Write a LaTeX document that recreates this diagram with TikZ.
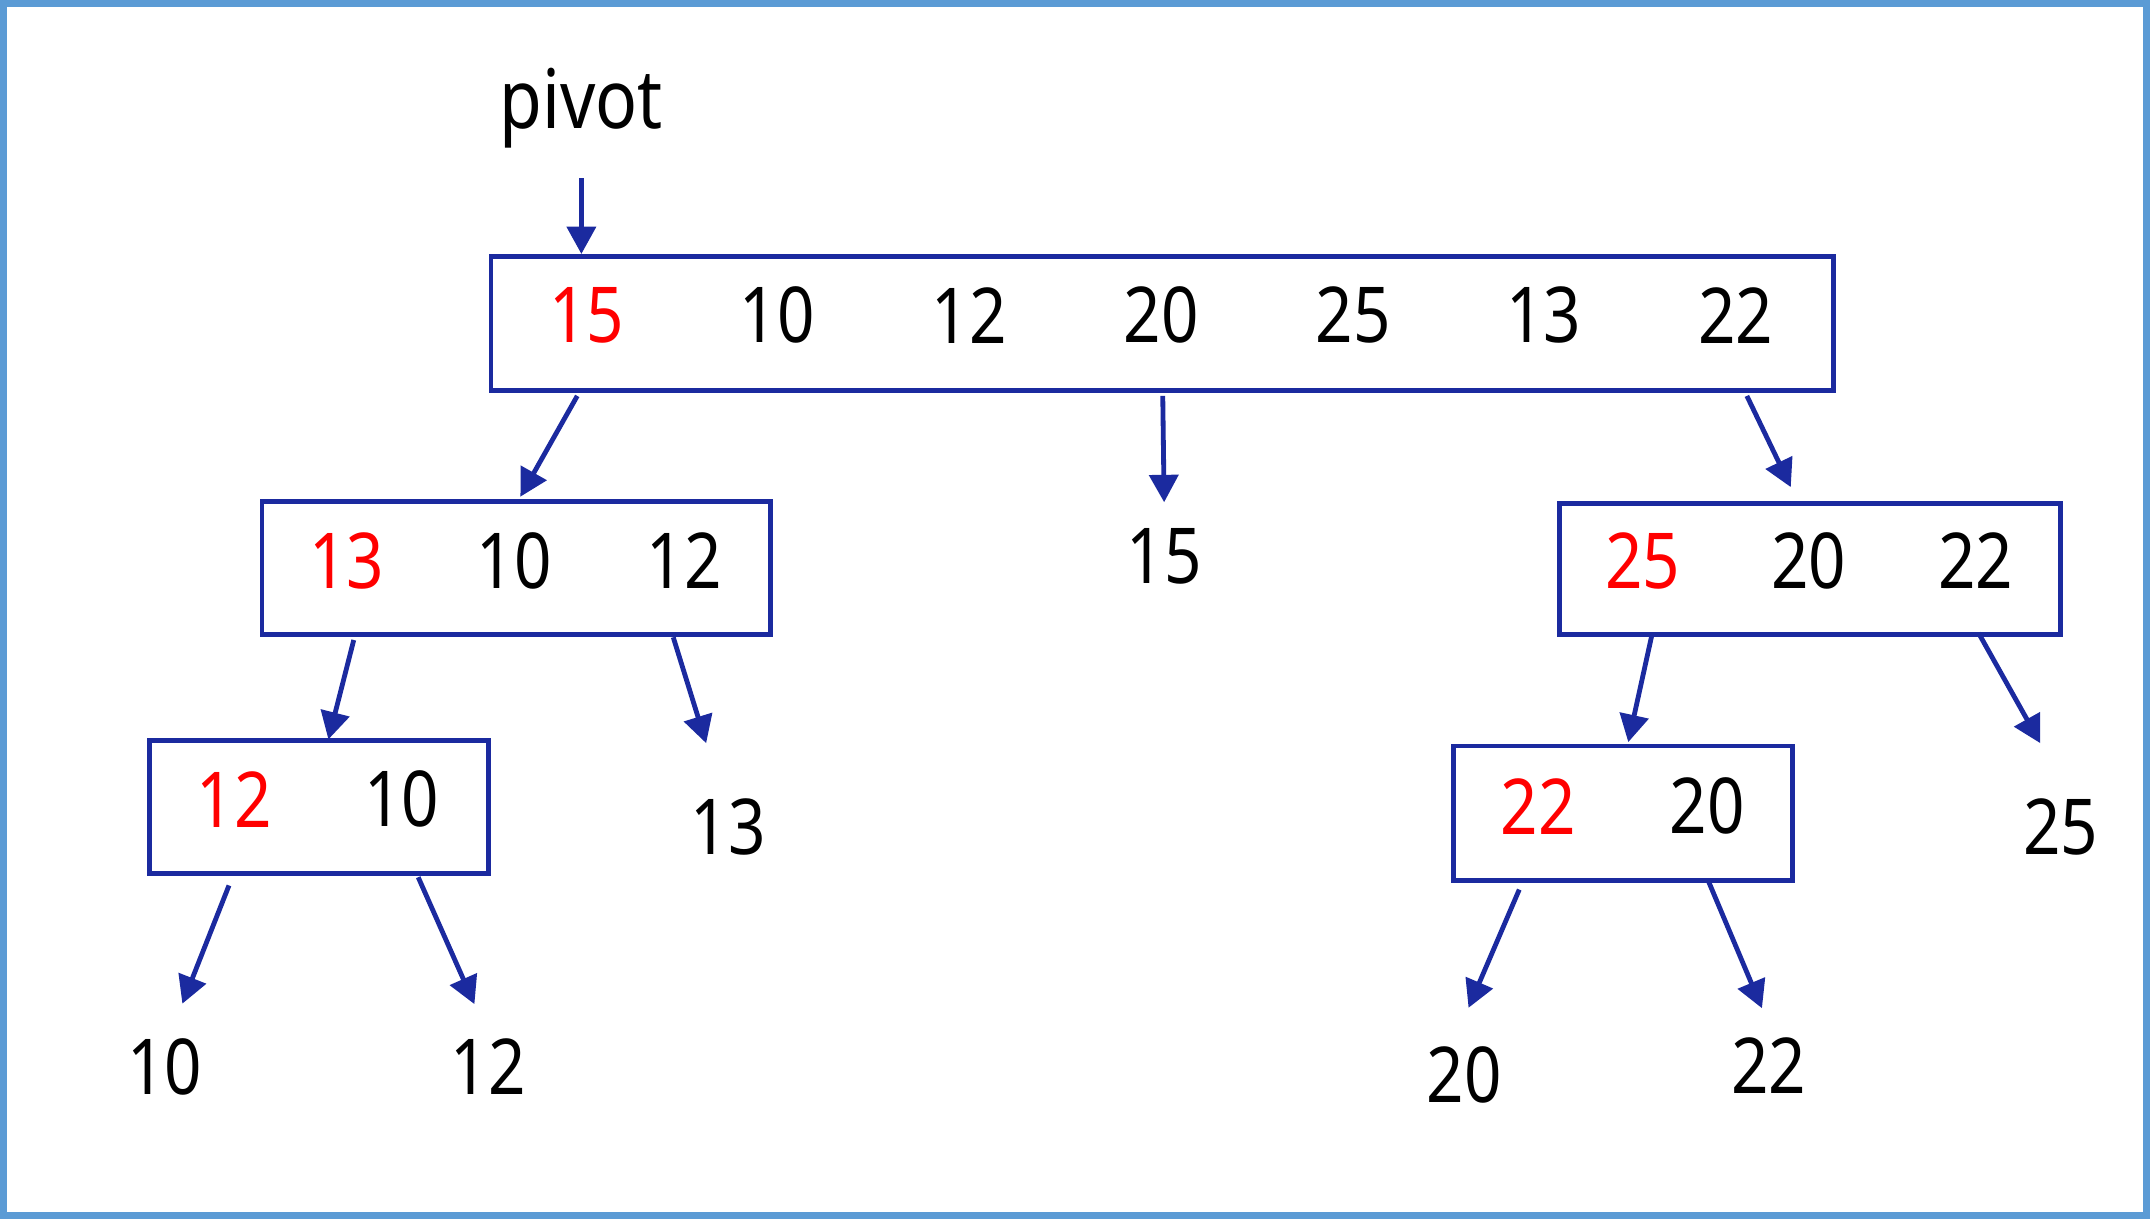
\documentclass[tikz,border=0pt]{standalone}
\usepackage{fontspec}
\setmainfont{Noto Sans}[FakeStretch=0.85]
\usepackage{xcolor}
\usepackage{tikz}
\usetikzlibrary{arrows.meta,calc}

\definecolor{lineblue}{HTML}{1B2A9F}
\definecolor{frameblue}{HTML}{5B9BD5}

\tikzset{
  box/.style={draw=lineblue, line width=2pt, inner sep=0pt},
  num/.style={inner sep=0pt, font=\fontsize{32}{38}\selectfont},
  pv/.style={num, text=red},
  arr/.style={draw=lineblue, line width=2pt, -{Triangle[length=0.4cm,width=0.42cm]}}
}

\begin{document}
\begin{tikzpicture}[x=0.02cm, y=-0.02cm]
            \useasboundingbox (0,0) rectangle (1568,889);
            \draw[frameblue, line width=0.1cm] (2.5,2.5) rectangle (1565.5,886.5);

            % pivot label
            \node[inner sep=0pt, font=\fontsize{34}{40}\selectfont] at (424,79) (pivot) {pivot};
            \coordinate (pvtip) at (424,130);

            % first row
            \node[box, minimum width=19.58cm, minimum height=1.96cm] at (847.5,236) (top) {};
            \node[pv] at (428,230) (t1) {15};
            \node[num] at (567,230) (t2) {10};
            \node[num] at (707,230) (t3) {12};
            \node[num] at (847,230) (t4) {20};
            \node[num] at (987,230) (t5) {25};
            \node[num] at (1126,230) (t6) {13};
            \node[num] at (1266,230) (t7) {22};

            % second row
            \node[box, minimum width=7.42cm, minimum height=1.94cm] at (376.5,414.5) (left) {};
            \node[pv] at (253,409) (la) {13};
            \node[num] at (375,409) (lb) {10};
            \node[num] at (499,409) (lc) {12};
            \node[num] at (849,406) (mid) {15};
            \node[box, minimum width=7.32cm, minimum height=1.92cm] at (1320,415) (right) {};
            \node[pv] at (1198,409) (ra) {25};
            \node[num] at (1319,409) (rb) {20};
            \node[num] at (1441,409) (rc) {22};

            % third row
            \node[box, minimum width=4.94cm, minimum height=1.94cm] at (232.5,588.5) (lleft) {};
            \node[pv] at (171,583) (lla) {12};
            \node[num] at (293,583) (llb) {10};
            \node[num] at (531,603) (lright) {13};
            \node[box, minimum width=4.94cm, minimum height=1.96cm] at (1183.5,593) (rleft) {};
            \node[pv] at (1122,588) (rla) {22};
            \node[num] at (1245,588) (rlb) {20};
            \node[num] at (1503,603) (rright) {25};

            % last row
            \node[num] at (120,778) (o10) {10};
            \node[num] at (356,778) (o12) {12};
            \node[num] at (1068,784) (o20) {20};
            \node[num] at (1290,777) (o22) {22};

            \draw[arr] (pvtip) -- (top.north -| pvtip);
            \draw[arr] ($(top.south -| t1)+(-7,2)$) -- ($(left.north)+(3,-2)$);
            \draw[arr] ($(top.south -| t4)+(1,2)$) -- ($(mid.north)+(0,-19)$);
            \draw[arr] ($(top.south -| t7)+(8,2)$) -- ($(right.north)+(-14,-10)$);
            \draw[arr] ($(left.south -| la)+(5,2)$) -- ($(lleft.north)+(7,1)$);
            \draw[arr] ($(left.south -| lc)+(-8,0)$) -- ($(lright.north)+(-16,-40)$);
            \draw[arr] ($(right.south -| ra)+(7,-3)$) -- ($(rleft.north)+(4,-1)$);
            \draw[arr] ($(right.south -| rc)+(2,-3)$) -- ($(rright.north)+(-15,-40)$);
            \draw[arr] ($(lleft.south -| lla)+(-4,7)$) -- ($(o10.north)+(13,-25)$);
            \draw[arr] ($(lleft.south -| llb)+(12,1)$) -- ($(o12.north)+(-10,-25)$);
            \draw[arr] ($(rleft.south -| rla)+(-14,5)$) -- ($(o20.north)+(3,-28)$);
            \draw[arr] ($(rleft.south -| rlb)+(1,-1)$) -- ($(o22.north)+(-5,-21)$);
        \end{tikzpicture}
\end{document}
